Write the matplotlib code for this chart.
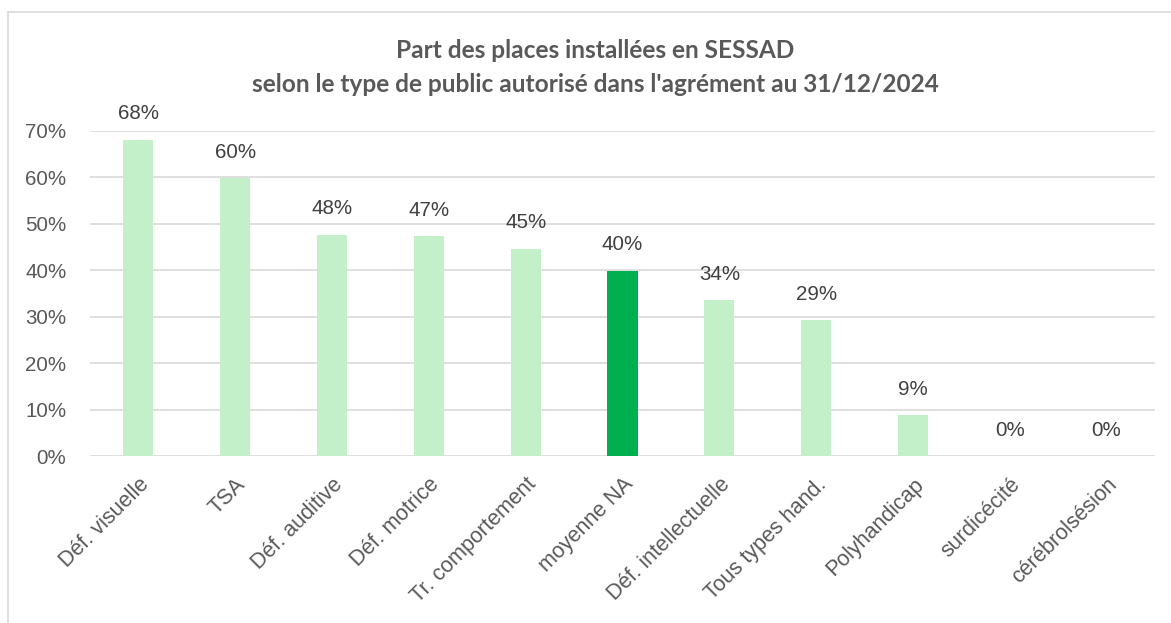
import matplotlib.pyplot as plt
from matplotlib.lines import Line2D

# données
categories = ["Déf. visuelle", "TSA", "Déf. auditive", "Déf. motrice",
              "Tr. comportement", "moyenne NA", "Déf. intellectuelle",
              "Tous types hand.", "Polyhandicap", "surdicécité", "cérébrolsésion"]
values = [0.681, 0.598, 0.476, 0.473, 0.446, 0.399, 0.336, 0.292, 0.088, 0.0, 0.0]
highlight = "moyenne NA"
yticks = [0, 0.1, 0.2, 0.3, 0.4, 0.5, 0.6, 0.7]
title_1 = "Part des places installées en SESSAD"
title_2 = "selon le type de public autorisé dans l'agrément au 31/12/2024"

plt.rcParams['font.family'] = ['Liberation Sans', 'DejaVu Sans']

W, H = 1171, 623
fig = plt.figure(figsize=(W / 100, H / 100), dpi=100)
ax = fig.add_axes([90 / W, (H - 456) / H, 1065 / W, 325 / H])

colors = ["#00B050" if c == highlight else "#C3F0C8" for c in categories]
x = list(range(len(categories)))
ax.bar(x, values, width=0.31, color=colors, zorder=2)

for xi, v in zip(x, values):
    ax.annotate(f"{v * 100:.0f}%", (xi, v), xytext=(0, 26), textcoords="offset pixels",
                ha="center", va="center", fontsize=14.8, color="#404040")

ax.set_xlim(-0.5, len(categories) - 0.5)
ax.set_ylim(0, 0.7)
ax.set_yticks(yticks)
ax.set_yticklabels([f"{t * 100:.0f}%" for t in yticks])
ax.yaxis.grid(True, color="#D9D9D9", lw=1.2, zorder=0)
for s in ax.spines.values():
    s.set_visible(False)
ax.tick_params(length=0, labelsize=14.8, labelcolor="#595959")
ax.tick_params(axis="y", pad=17)
ax.set_xticks(x)
ax.set_xticklabels(categories, rotation=45, ha="right", va="top", rotation_mode="anchor")
ax.tick_params(axis="x", pad=13, labelsize=15.5)

fig.text(595 / W, 1 - 51 / H, title_1, ha="center", va="center", fontsize=17.6,
         fontweight="bold", color="#595959", family=["Lato", "DejaVu Sans"])
fig.text(595 / W, 1 - 84 / H, title_2, ha="center", va="center", fontsize=17.6,
         fontweight="bold", color="#595959", family=["Lato", "DejaVu Sans"])

# cadre du graphique
fig.add_artist(Line2D([8 / W, 1], [1 - 12 / H, 1 - 12 / H], color="#D9D9D9", lw=1.2))
fig.add_artist(Line2D([8 / W, 8 / W], [0, 1 - 12 / H], color="#D9D9D9", lw=1.2))

fig.savefig("out.png", dpi=100)
